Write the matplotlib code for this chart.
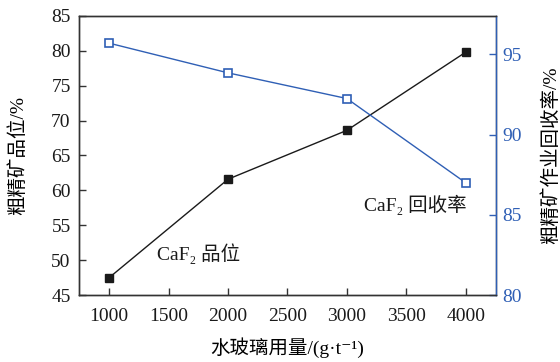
import matplotlib
matplotlib.use("Agg")
import matplotlib.pyplot as plt

# Sodium silicate dosage (g/t) and flotation results of the rougher concentrate
dosage = [1000, 2000, 3000, 4000]
grade = [47.5, 61.6, 68.6, 79.8]        # CaF2 grade, %
recovery = [95.7, 93.85, 92.25, 87.0]  # CaF2 operational recovery, %

x_ticks = [1000, 1500, 2000, 2500, 3000, 3500, 4000]
left_ticks = [45, 50, 55, 60, 65, 70, 75, 80, 85]
right_ticks = [80, 85, 90, 95]

FONTS = ['Liberation Serif', 'Noto Sans CJK SC', 'DejaVu Serif']
plt.rcParams['font.family'] = FONTS
plt.rcParams['font.size'] = 14
plt.rcParams['font.weight'] = 'light'

BLUE = '#2f5fb5'
BLACK = '#1a1a1a'

fig = plt.figure(figsize=(5.6, 3.62), dpi=100)
ax = fig.add_axes([0.141, 0.185, 0.744, 0.771])
ax2 = ax.twinx()

ax.plot(dosage, grade, color=BLACK, lw=1.0, marker='s', ms=6,
        mfc=BLACK, mec=BLACK, zorder=3)
ax2.plot(dosage, recovery, color=BLUE, lw=1.0, marker='s', ms=6,
         mfc='white', mec=BLUE, mew=1.2, zorder=3)

ax.set_xlim(745, 4252)
ax.set_ylim(45, 85)
ax2.set_ylim(80, 97.4)

ax.set_xticks(x_ticks)
ax.set_yticks(left_ticks)
ax2.set_yticks(right_ticks)

ax.tick_params(axis='both', direction='in', length=5, width=1.0,
               labelsize=14, color='#333333', labelcolor=BLACK)
ax.tick_params(axis='x', pad=9)
ax.tick_params(axis='y', pad=6)
ax2.tick_params(axis='y', direction='in', length=5, width=1.0,
                labelsize=14, color=BLUE, labelcolor=BLUE, pad=5)

for s in ax.spines.values():
    s.set_linewidth(1.0)
    s.set_color('#333333')
for name, s in ax2.spines.items():
    s.set_linewidth(1.0)
    s.set_color('#333333')
ax2.spines['right'].set_color(BLUE)

ax.set_xlabel('水玻璃用量/(g·t⁻¹)', fontsize=14, labelpad=9)
ax.set_ylabel('粗精矿品位/%', fontsize=14, labelpad=17)
ax2.set_ylabel('粗精矿作业回收率/%', fontsize=14, labelpad=14)

ax.text(1400, 51.0, 'CaF₂ 品位', fontsize=14, ha='left', va='center',
        color=BLACK)
ax.text(3144, 57.9, 'CaF₂ 回收率', fontsize=14, ha='left', va='center',
        color=BLACK)

fig.savefig('out.png', dpi=100)
